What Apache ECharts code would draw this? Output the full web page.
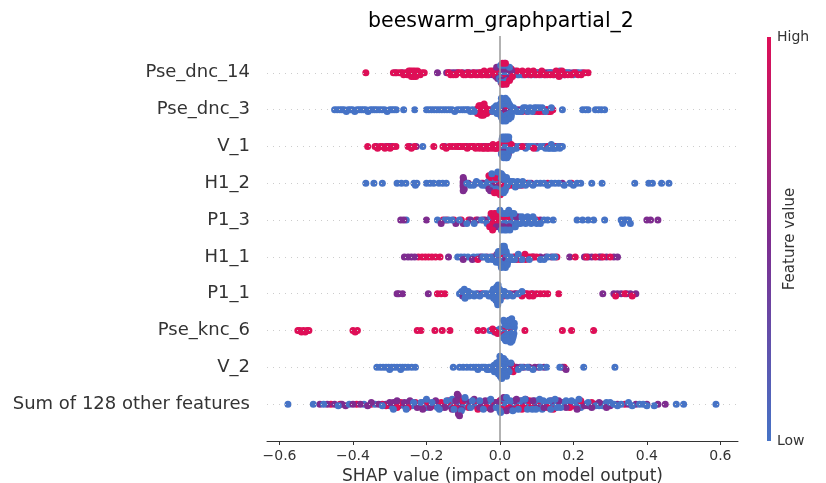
<!DOCTYPE html>
<html><head><meta charset="utf-8">
<script src="https://cdn.jsdelivr.net/npm/echarts@6/dist/echarts.min.js"></script>
<style>html,body{margin:0;padding:0;background:#fff}#c{width:826px;height:483px}</style>
</head><body><div id="c"></div>
<script>
const FONT = 'DejaVu Sans';
const featureNames = ['Pse_dnc_14','Pse_dnc_3','V_1','H1_2','P1_3','H1_1','P1_1','Pse_knc_6','V_2','Sum of 128 other features'];
const xTickValues = [-0.6,-0.4,-0.2,0,0.2,0.4,0.6];
const levelValues = [1, 0.5, 0]; // feature value of the high / mid / low groups

// SHAP values per feature, grouped by feature value (High / Mid / Low)
const pseDnc14High = [-0.365,-0.29,-0.281,-0.274,-0.268,-0.262,-0.257,-0.252,-0.248,-0.245,-0.243,-0.241,-0.239,-0.237,-0.235,-0.233,-0.231,-0.229,-0.227,-0.224,-0.221,-0.217,-0.212,-0.206,-0.14,-0.134,-0.127,-0.12,-0.113,-0.106,-0.099,-0.093,-0.087,-0.081,-0.076,-0.071,-0.066,-0.061,-0.056,-0.051,-0.047,-0.043,-0.038,-0.033,-0.027,-0.021,-0.014,-0.007,0.004,0.011,0.019,0.031,0.047,0.061,0.069,0.077,0.084,0.091,0.099,0.107,0.114,0.121,0.129,0.137,0.145,0.153,0.161,0.169,0.177,0.185,0.194,0.204,0.213,0.221,0.231,0.24,0.007,0.015,0.026,0.006,0.017,0.034];
const pseDnc14Mid = [-0.285,-0.265,-0.25,-0.244,-0.238,-0.232,-0.226,-0.17,-0.145,-0.137,-0.129,-0.122,-0.115,-0.101,-0.09,-0.083,-0.073,-0.063,-0.053,-0.045,-0.037,-0.029,-0.02,-0.011,-0.004,0.002,0.008,0.014,0.021,0.028,0.039,0.054,0.066,0.074,0.081,0.089,0.097,0.104,0.111,0.119,0.127,0.134,0.141,0.149,0.157,0.164,0.171,0.179,0.189,0.199,0.209,0.224,-0.006,0.005,0.011,0.016,0.024,0.032,-0.009,0.004,0.01,0.015,0.023,0.009,0.028];
const pseDnc14Low = [-0.03,-0.024,-0.019,-0.015,-0.011,-0.008,-0.006,-0.004,-0.002,0,0.001,0.003,0.005,0.006,0.007,0.009,0.01,0.012,0.013,0.015,0.016,0.018,0.019,0.021,0.022,0.024,0.025,0.027,0.029,0.031,0.033,0.036,0.039,0.042,0.045,0.048,0.052,0.056,0.06,0.065,0.071,0.078,0.086,0.094,0.103,0.112,0.124,0.136,0.148,0.156,0.16,0.163,0.166,0.17,0.176,0.184,0.2,0.215,-0.001,0.002,0.008,0.011,0.013,0.02,0.026,0.003,0.014,0.018];

const pseDnc3High = [-0.063,-0.06,-0.058,-0.056,-0.054,-0.052,-0.05,-0.049,-0.047,-0.046,-0.044,-0.042,-0.04,-0.036,-0.031,-0.027,-0.01,0.006,0.016,0.027,0.061,0.074,0.086,0.095,0.108,0.118,0.126,0.132,0.138,0.144,-0.061,-0.057,-0.053,-0.051,-0.048,-0.045,-0.043,0.009,0.003,0.019];
const pseDnc3Mid = [-0.066,-0.035,-0.025,-0.015,-0.006,0.003,0.008,0.011,0.014,0.019,0.023,0.029,0.036,0.048,0.056,0.065,0.072,0.079,0.091,0.099,0.104,0.111,0.117,0.129,0.14,0,0.006,0.012,0.017,0.026,-0.004,0.006,0.014,0.021,0.01];
const pseDnc3Low = [-0.45,-0.443,-0.436,-0.43,-0.424,-0.418,-0.413,-0.407,-0.401,-0.395,-0.389,-0.383,-0.377,-0.371,-0.365,-0.359,-0.353,-0.347,-0.341,-0.335,-0.328,-0.321,-0.314,-0.307,-0.3,-0.294,-0.288,-0.282,-0.262,-0.232,-0.2,-0.193,-0.186,-0.179,-0.172,-0.165,-0.158,-0.151,-0.144,-0.137,-0.13,-0.123,-0.116,-0.109,-0.102,-0.096,-0.09,-0.085,-0.08,-0.075,-0.07,-0.02,-0.016,-0.012,-0.008,-0.005,-0.002,0,0.002,0.004,0.005,0.007,0.009,0.01,0.012,0.013,0.015,0.017,0.018,0.02,0.022,0.024,0.026,0.028,0.031,0.034,0.037,0.041,0.046,0.052,0.058,0.064,0.07,0.076,0.082,0.088,0.094,0.1,0.107,0.115,0.124,0.14,0.17,0.225,0.233,0.24,0.26,0.268,0.276,0.285,-0.01,0.001,0.008,0.011,0.016,0.025,0.03,0.004,0.015,0.02];

const v1High = [-0.36,-0.34,-0.333,-0.326,-0.319,-0.313,-0.306,-0.299,-0.291,-0.283,-0.25,-0.241,-0.233,-0.18,-0.155,-0.146,-0.138,-0.13,-0.122,-0.115,-0.108,-0.101,-0.095,-0.089,-0.083,-0.077,-0.071,-0.066,-0.061,-0.056,-0.051,-0.047,-0.043,-0.039,-0.035,-0.031,-0.027,-0.023,-0.019,-0.015,-0.011,-0.007,-0.003,0.011,0.031,0.061,0.092,0.131,0.151,0.006,0.018];
const v1Mid = [-0.336,-0.31,-0.302,-0.295,-0.245,-0.228,-0.15,-0.111,-0.09,-0.073,-0.058,-0.045,-0.032,-0.02,-0.008,0.005,0.021,0.041,0.071,0.101,0.121,0.136,0.146,0.156,0.165,0.009,0.015,0.023];
const v1Low = [-0.21,-0.041,-0.015,-0.005,0.001,0.003,0.004,0.005,0.006,0.007,0.008,0.009,0.01,0.011,0.012,0.013,0.014,0.015,0.016,0.017,0.018,0.019,0.02,0.021,0.022,0.023,0.024,0.025,0.026,0.028,0.03,0.033,0.036,0.04,0.045,0.05,0.055,0.062,0.07,0.078,0.085,0.092,0.1,0.11,0.118,0.124,0.128,0.132,0.136,0.14,0.143,0.147,0.152,0.158,0.163,0.17,0.004,0.006,0.008,0.009,0.011,0.012,0.014,0.015,0.017,0.018,0.02,0.022,0.024,0.007,0.013,0.019,0.016,0.01,0.027,0.032];

const h12High = [-0.05,-0.035,-0.028,-0.026,-0.022,-0.018,-0.016,-0.014,-0.01,-0.008,-0.006,-0.002,0,0.002,0.004,0.006,0.01,0.012,0.014,0.018,0.022,0.03,0.04,0.05,0.06,0.075,0.13,0.195,-0.024,-0.02,-0.012,-0.004,0.001,0.008,-0.03,-0.015,-0.014,0.001,-0.009];
const h12Mid = [-0.1,-0.1,-0.1,-0.1,-0.099,-0.097,-0.086,-0.066,-0.046,-0.036,-0.026,-0.016,-0.006,0.008,0.018,0.028,0.038,0.048,0.055,0.065,0.085,0.17,-0.02,-0.01,0.002,-0.03,-0.1,-0.1,-0.026,0.006];
const h12Low = [-0.365,-0.343,-0.32,-0.28,-0.268,-0.256,-0.234,-0.23,-0.226,-0.2,-0.19,-0.18,-0.166,-0.156,-0.146,-0.09,-0.081,-0.072,-0.064,-0.056,-0.048,-0.04,-0.032,-0.028,-0.024,-0.02,-0.018,-0.016,-0.012,-0.01,-0.008,-0.004,-0.002,0,0.003,0.005,0.008,0.01,0.012,0.015,0.018,0.02,0.025,0.03,0.036,0.042,0.048,0.055,0.062,0.07,0.08,0.09,0.1,0.11,0.12,0.13,0.14,0.15,0.16,0.175,0.19,0.2,0.21,0.22,0.25,0.278,0.367,0.405,0.415,0.44,0.46,-0.006,-0.022,0.004,0.014];

const p13High = [-0.155,-0.145,-0.125,-0.105,-0.085,-0.065,-0.045,-0.03,-0.026,-0.022,-0.019,-0.018,-0.016,-0.013,-0.012,-0.01,-0.007,-0.006,-0.004,-0.001,0.01,0.025,0.05,0.1,-0.028,-0.024,-0.015,-0.009,-0.003,0.002,-0.02];
const p13Mid = [-0.27,-0.262,-0.2,-0.16,-0.12,-0.1,-0.08,-0.06,-0.04,-0.02,0.005,0.015,0.02,0.03,0.035,0.04,0.05,0.06,0.07,0.09,0.11,0.4,0.41,0.43,-0.01,0,0.01,0.025,0.045];
const p13Low = [-0.255,-0.17,-0.15,-0.14,-0.13,-0.11,-0.09,-0.07,-0.05,-0.035,-0.025,0.002,0.006,0.01,0.013,0.016,0.019,0.022,0.025,0.028,0.031,0.034,0.037,0.04,0.044,0.048,0.052,0.056,0.06,0.065,0.07,0.075,0.08,0.085,0.09,0.095,0.1,0.11,0.12,0.13,0.145,0.21,0.225,0.24,0.255,0.285,0.33,0.334,0.338,0.343,0.35,0.355,0.004,0.008,0.012,0.015,0.018,0.021,0.027,0.033,0.038,0.042,0,0.024];

const h11High = [-0.222,-0.212,-0.203,-0.194,-0.185,-0.175,-0.163,-0.06,-0.02,0.01,0.038,0.045,0.052,0.058,0.064,0.07,0.078,0.085,0.092,0.1,0.155,0.205,0.235,0.26,0.28,0.3,0,0.014,0.042,0.055,0.068];
const h11Mid = [-0.26,-0.25,-0.241,-0.232,-0.14,-0.1,-0.075,-0.05,-0.035,0.05,0.07,0.09,0.11,0.125,0.14,0.19,0.23,0.24,0.25,0.27,0.275,0.29,0.31,0.32,-0.008,0.006,0.016];
const h11Low = [-0.115,-0.106,-0.097,-0.087,-0.072,-0.062,-0.055,-0.046,-0.04,-0.032,-0.026,-0.021,-0.016,-0.012,-0.008,-0.005,-0.002,0,0.002,0.004,0.006,0.008,0.01,0.012,0.014,0.016,0.018,0.021,0.024,0.027,0.03,0.034,0.04,0.05,0.06,0.08,0.11,0.12,0.13,0.145,0.15,-0.01,-0.006,-0.003,-0.001,0.001,0.003,0.005,0.007,0.009,0.011,0.013,0.015,0.017,0.02,0.004,0.008,-0.004,0.012];

const p11High = [-0.17,-0.16,-0.15,-0.05,0.005,0.015,0.03,0.045,0.055,0.06,0.065,0.07,0.075,0.08,0.085,0.09,0.1,0.11,0.12,0.13,0.16,0.315,0.34,0.36,0.002,0.01,-0.01];
const p11Mid = [-0.28,-0.275,-0.265,-0.195,-0.1,-0.08,-0.06,0.02,0.04,0.09,0.28,0.31,0.32,0.33,0.345,0.355,0.37,-0.015,-0.005];
const p11Low = [-0.11,-0.106,-0.102,-0.1,-0.098,-0.095,-0.092,-0.088,-0.084,-0.075,-0.07,-0.065,-0.055,-0.045,-0.04,-0.035,-0.03,-0.026,-0.022,-0.019,-0.016,-0.013,-0.01,-0.008,-0.006,-0.004,-0.002,0,0.003,0.008,0.012,0.02,0.025,0.035,0.05,0.06,-0.024,-0.02,-0.017,-0.014,-0.012,-0.009,-0.007,-0.005,-0.003,-0.001,0.001,-0.018,-0.011,-0.006,-0.104,-0.097,-0.093,-0.09,-0.086];

const pseKnc6High = [-0.55,-0.545,-0.54,-0.535,-0.53,-0.525,-0.52,-0.4,-0.394,-0.388,-0.225,-0.215,-0.177,-0.157,-0.136,-0.06,-0.045,-0.02,-0.012,-0.006,0.012,0.026,0.068,0.17,0.195,0.255,0.015,0.03];
const pseKnc6Mid = [0.016,0.028,0.034,0.021];
const pseKnc6Low = [-0.027,-0.02,-0.015,-0.01,-0.005,-0.002,0,0.003,0.006,0.009,0.011,0.013,0.015,0.017,0.019,0.021,0.023,0.025,0.027,0.029,0.031,0.033,0.035,0.037,0.038,0.039,0.012,0.014,0.018,0.022,0.024,0.028,0.032,0.036,0.02,0.03,0.01,0.016,0.026,0.034,0.014,0.018,0.021,0.024,0.027,0.03,0.033,0.036,0.038,0.012,0.016,0.022,0.026,0.029,0.032,0.035,0.039,0.01,0.02,0.025];

const v2High = [0.03,0.034,0.038,0.028,0,0.032,0.175,0.033,0.036,0.029];
const v2Mid = [-0.02,-0.006,0.003,0.01,0.018,0.045,0.055,0.065,0.08,0.095,0.105,0.12,0.17,0.18,0.005,0.015,0.024];
const v2Low = [-0.335,-0.326,-0.318,-0.31,-0.303,-0.3,-0.295,-0.288,-0.28,-0.272,-0.27,-0.265,-0.258,-0.25,-0.24,-0.23,-0.127,-0.11,-0.1,-0.09,-0.08,-0.072,-0.065,-0.06,-0.058,-0.05,-0.045,-0.04,-0.035,-0.03,-0.03,-0.025,-0.02,-0.016,-0.015,-0.012,-0.01,-0.008,-0.005,-0.004,0,0.002,0.004,0.006,0.008,0.01,0.012,0.014,0.016,0.02,0.025,0.03,0.05,0.06,0.075,0.09,0.11,0.127,0.163,0.228,0.313,-0.012,-0.009,-0.006,-0.003,-0.001,0.001,0.003,0.005,0.007,0.009,0.011,0.013,0.015,0.018,0,0.006,-0.004,0.01];

const otherHigh = [-0.46,-0.435,-0.39,-0.35,-0.32,-0.285,-0.265,-0.245,-0.225,-0.205,-0.19,-0.165,-0.15,-0.135,-0.12,-0.105,-0.095,-0.08,-0.065,-0.055,-0.04,-0.025,-0.01,0.008,0.018,0.03,0.042,0.055,0.075,0.09,0.1,0.115,0.135,0.155,0.175,0.195,0.215,0.235,0.255,0.275,0.3,0.34,-0.28,-0.2,-0.14,-0.11,-0.07,-0.045,0,0.02,0.05,0.065,0.085,0.12,0.16,0.2,-0.31,-0.27,-0.25,-0.23,-0.215,-0.195,-0.18,-0.16,-0.145,-0.125,-0.1,-0.085,-0.06,-0.035,-0.015,0.005,0.025,0.038,0.06,0.08,0.105,0.13,0.145,0.17,0.19,0.22,0.25];
const otherMid = [-0.49,-0.47,-0.45,-0.43,-0.42,-0.4,-0.38,-0.36,-0.33,-0.31,-0.29,-0.275,-0.255,-0.24,-0.22,-0.2,-0.185,-0.17,-0.155,-0.14,-0.125,-0.113,-0.113,-0.113,-0.11,-0.1,-0.09,-0.075,-0.06,-0.045,-0.03,-0.015,0,0.012,0.022,0.035,0.05,0.065,0.08,0.095,0.11,0.13,0.15,0.17,0.185,0.2,0.22,0.24,0.26,0.28,0.3,0.32,0.35,0.37,0.4,0.43,0.45,-0.113,-0.113,-0.114,-0.112,-0.113,-0.113,-0.35,-0.26,-0.21,-0.16,-0.13,-0.08,-0.05,-0.02,0.005,0.04,0.06,0.1,0.14,0.19,0.23,0.27,-0.3,-0.28,-0.245,-0.225,-0.19,-0.175,-0.15,-0.12,-0.105,-0.095,-0.07,-0.055,-0.04,-0.025,-0.01,0.01,0.018,0.03,0.045,0.07,0.09,0.12,0.16,0.18,0.21,0.25,0.29,-0.116,-0.11];
const otherLow = [-0.577,-0.508,-0.48,-0.44,-0.41,-0.37,-0.34,-0.3,-0.3,-0.28,-0.27,-0.26,-0.25,-0.24,-0.23,-0.21,-0.2,-0.19,-0.175,-0.16,-0.15,-0.14,-0.13,-0.12,-0.11,-0.1,-0.09,-0.085,-0.07,-0.06,-0.05,-0.04,-0.035,-0.02,-0.005,0.005,0.01,0.015,0.02,0.025,0.03,0.04,0.045,0.05,0.06,0.065,0.07,0.08,0.085,0.09,0.1,0.105,0.11,0.12,0.125,0.13,0.14,0.145,0.15,0.16,0.17,0.19,0.2,0.21,0.22,0.23,0.25,0.27,0.28,0.29,0.31,0.33,0.36,0.38,0.39,0.4,0.42,0.48,0.5,0.588,-0.2,-0.17,-0.13,-0.08,-0.03,0,0.012,0.028,0.055,0.075,0.095,0.115,0.135,0.155,0.175,0.24,0.26,-0.32,-0.29,-0.255,-0.235,-0.215,-0.185,-0.165,-0.145,-0.125,-0.105,-0.095,-0.075,-0.055,-0.045,-0.025,-0.01,0.002,0.018,0.035,0.05,0.068,0.088,0.098,0.108,0.118,0.138,0.15,0.165,0.18,0.195,0.215,0.3,0.32,0.35];

const rowGroups = [
  [pseDnc14High, pseDnc14Mid, pseDnc14Low],
  [pseDnc3High, pseDnc3Mid, pseDnc3Low],
  [v1High, v1Mid, v1Low],
  [h12High, h12Mid, h12Low],
  [p13High, p13Mid, p13Low],
  [h11High, h11Mid, h11Low],
  [p11High, p11Mid, p11Low],
  [pseKnc6High, pseKnc6Mid, pseKnc6Low],
  [v2High, v2Mid, v2Low],
  [otherHigh, otherMid, otherLow]
];

// interleave groups so colours mix in drawing order
function interleave(groups) {
  const out = [];
  const maxLen = Math.max(...groups.map(g => g.length));
  for (let i = 0; i < maxLen; i++) {
    groups.forEach((g, gi) => { if (i < g.length) out.push([g[i], levelValues[gi]]); });
  }
  return out;
}
// SHAP-style beeswarm dodge offsets
function dodge(xs) {
  const nbins = 100, rowHeight = 0.4;
  const mn = Math.min(...xs), mx = Math.max(...xs);
  const quant = xs.map(x => Math.round(nbins * (x - mn) / (mx - mn + 1e-8)));
  const inds = xs.map((_, i) => i).sort((a, b) => quant[a] - quant[b] || a - b);
  const ys = new Array(xs.length).fill(0);
  let layer = 0, last = -1;
  for (const i of inds) {
    if (quant[i] !== last) layer = 0;
    ys[i] = Math.ceil(layer / 2) * ((layer % 2) * 2 - 1);
    layer++; last = quant[i];
  }
  const m = Math.max(...ys) + 1;
  return ys.map(y => y * 0.9 * rowHeight / m);
}
const points = [];
rowGroups.forEach((groups, r) => {
  const pts = interleave(groups);
  const ys = dodge(pts.map(p => p[0]));
  pts.forEach((p, i) => points.push([p[0], r + ys[i], p[1]]));
});

const BLUE = '#4673C6', PURPLE = '#7E2C8F', RED = '#DE0F57';
const chart = echarts.init(document.getElementById('c'));
chart.setOption({
  animation: false,
  backgroundColor: '#fff',
  textStyle: { fontFamily: FONT },
  title: {
    text: 'beeswarm_graphpartial_2', left: 496, top: 6, textAlign: 'center',
    textStyle: { fontFamily: FONT, fontSize: 20.5, fontWeight: 'normal', color: '#000' }
  },
  grid: { left: 267, right: 88, top: 36, bottom: 42, outerBoundsMode: 'none', containLabel: false },
  xAxis: {
    type: 'value', min: -0.634, max: 0.648,
    axisLine: { show: true, onZero: false, lineStyle: { color: '#333', width: 1 } },
    axisTick: { show: true, customValues: xTickValues, length: 4, lineStyle: { color: '#333' } },
    axisLabel: {
      customValues: xTickValues, fontSize: 14, color: '#333', margin: 8, fontFamily: FONT,
      formatter: v => (v < -1e-9 ? '\u2212' + Math.abs(v).toFixed(1) : Math.abs(v).toFixed(1))
    },
    splitLine: { show: false },
    name: 'SHAP value (impact on model output)', nameLocation: 'middle', nameGap: 26,
    nameTextStyle: { fontSize: 17, color: '#333', fontFamily: FONT }
  },
  yAxis: {
    type: 'value', min: -1, max: 10, interval: 1, inverse: true,
    axisLine: { show: false }, axisTick: { show: false }, splitLine: { show: false },
    axisLabel: {
      fontSize: 18, color: '#333', margin: 17, fontFamily: FONT,
      formatter: v => (v >= 0 && v < featureNames.length ? featureNames[v] : '')
    }
  },
  visualMap: {
    show: false, type: 'continuous', dimension: 2, min: 0, max: 1, seriesIndex: 1,
    inRange: { color: [BLUE, PURPLE, RED] }
  },
  series: [
    {
      type: 'line', data: [], z: 1, silent: true,
      markLine: {
        silent: true, symbol: 'none', label: { show: false }, animation: false,
        data: featureNames.map((_, i) => ({ yAxis: i, lineStyle: { color: '#cccccc', width: 1, type: [1, 5] } }))
          .concat([{ xAxis: 0, lineStyle: { color: '#999999', width: 1.5, type: 'solid' } }])
      }
    },
    {
      type: 'scatter', data: points, symbolSize: 7, z: 3, silent: true,
      itemStyle: { opacity: 1 }
    }
  ],
  graphic: [
    {
      type: 'rect', left: 767, top: 37, silent: true,
      shape: { width: 4, height: 404 },
      style: { fill: new echarts.graphic.LinearGradient(0, 0, 0, 1, [
        { offset: 0, color: RED }, { offset: 0.5, color: PURPLE }, { offset: 1, color: BLUE }]) }
    },
    { type: 'text', x: 777, y: 37, style: { text: 'High', fontSize: 14, fontFamily: FONT, fill: '#333', verticalAlign: 'middle' } },
    { type: 'text', x: 777, y: 441, style: { text: 'Low', fontSize: 14, fontFamily: FONT, fill: '#333', verticalAlign: 'middle' } },
    { type: 'text', x: 790, y: 239, rotation: Math.PI / 2, style: { text: 'Feature value', fontSize: 15, fontFamily: FONT, fill: '#333', align: 'center', verticalAlign: 'middle' } }
  ]
});
</script></body></html>
